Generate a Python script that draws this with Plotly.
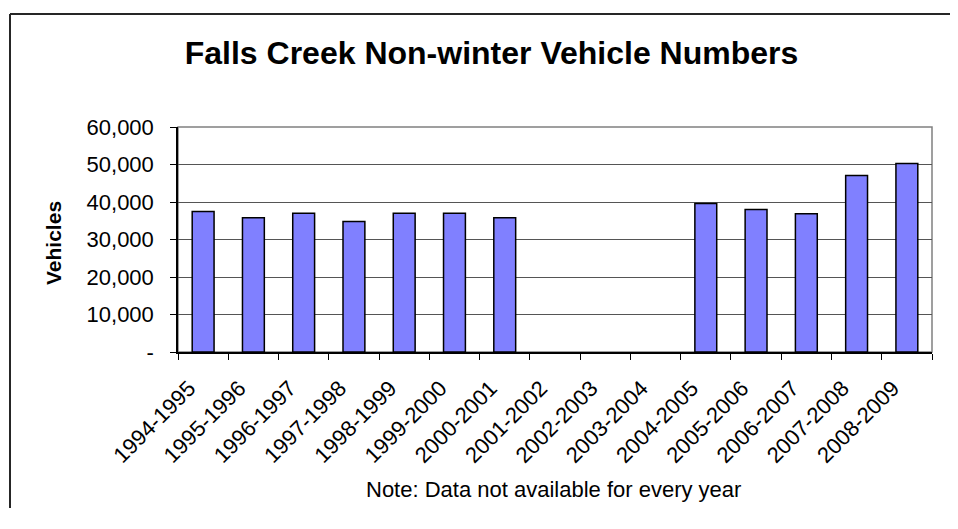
import plotly.graph_objects as go

seasons = ["1994-1995", "1995-1996", "1996-1997", "1997-1998", "1998-1999",
           "1999-2000", "2000-2001", "2001-2002", "2002-2003", "2003-2004",
           "2004-2005", "2005-2006", "2006-2007", "2007-2008", "2008-2009"]
vehicles = [37500, 35800, 37000, 34800, 37000, 37000, 35800,
            None, None, None,
            39600, 38000, 36900, 47100, 50300]
y_tickvals = [0, 10000, 20000, 30000, 40000, 50000, 60000]
y_ticktext = ["-", "10,000", "20,000", "30,000", "40,000", "50,000", "60,000"]

# page body has an 8px margin: target screen pixel p -> figure pixel p - 8
OFF = 8
W, H = 958 - 2 * OFF, 500
L, T = 178 - OFF, 127 - OFF
R = W - (932 - OFF)
B = H - (352 - OFF)
PW, PH = W - L - R, H - T - B

def px_x(px):
    return (px - OFF - L) / PW

def px_y(py):
    return (H - B - (py - OFF)) / PH

FONT = "Liberation Sans, Arial, sans-serif"

fig = go.Figure()
fig.add_trace(go.Bar(
    x=seasons, y=vehicles,
    marker=dict(color="#8080FF", line=dict(color="#000000", width=1.5)),
))

fig.update_layout(
    width=W, height=H,
    margin=dict(l=L, r=R, t=T, b=B),
    paper_bgcolor="white", plot_bgcolor="white",
    showlegend=False,
    bargap=0.565,
    font=dict(family=FONT, color="black", size=22),
    title=dict(text="Falls Creek Non-winter Vehicle Numbers",
               font=dict(family=FONT, size=32, weight=700, color="black"),
               x=(491.5 - OFF) / W, xanchor="center",
               y=1 - (53 - OFF) / H, yanchor="middle", yref="container"),
    xaxis=dict(
        type="category", tickangle=-45, tickson="boundaries",
        ticks="outside", ticklen=6, tickcolor="black", tickwidth=1,
        showline=True, linecolor="black", linewidth=1.5,
        showgrid=False, tickfont=dict(size=22),
        ticklabelstandoff=13, ticklabelshift=-14,
        range=[-0.5, len(seasons) - 0.5],
    ),
    yaxis=dict(
        range=[0, 60000], tickvals=y_tickvals, ticktext=y_ticktext,
        ticks="outside", ticklen=6, tickcolor="black", tickwidth=1,
        showline=True, linecolor="black", linewidth=1.5,
        showgrid=True, gridcolor="#555555", gridwidth=1,
        zeroline=False, tickfont=dict(size=22),
        ticklabelstandoff=12,
    ),
    shapes=[
        dict(type="rect", xref="paper", yref="paper", x0=0, x1=1, y0=0, y1=1,
             line=dict(color="#808080", width=1.5), layer="below"),
        dict(type="line", xref="paper", yref="paper",
             x0=px_x(10), x1=px_x(10), y0=px_y(14), y1=px_y(540),
             line=dict(color="#262626", width=2), layer="above"),
        dict(type="line", xref="paper", yref="paper",
             x0=px_x(10), x1=px_x(970), y0=px_y(14), y1=px_y(14),
             line=dict(color="#262626", width=2), layer="above"),
    ],
    annotations=[
        dict(text="Vehicles", textangle=-90, xref="paper", yref="paper",
             x=px_x(53), y=px_y(243), xanchor="center", yanchor="middle",
             showarrow=False, font=dict(family=FONT, size=21, weight=700)),
        dict(text="Note: Data not available for every year", xref="paper", yref="paper",
             x=px_x(553), y=px_y(489), xanchor="center", yanchor="middle",
             showarrow=False, font=dict(family=FONT, size=22)),
    ],
)

fig.write_html("out.html")
